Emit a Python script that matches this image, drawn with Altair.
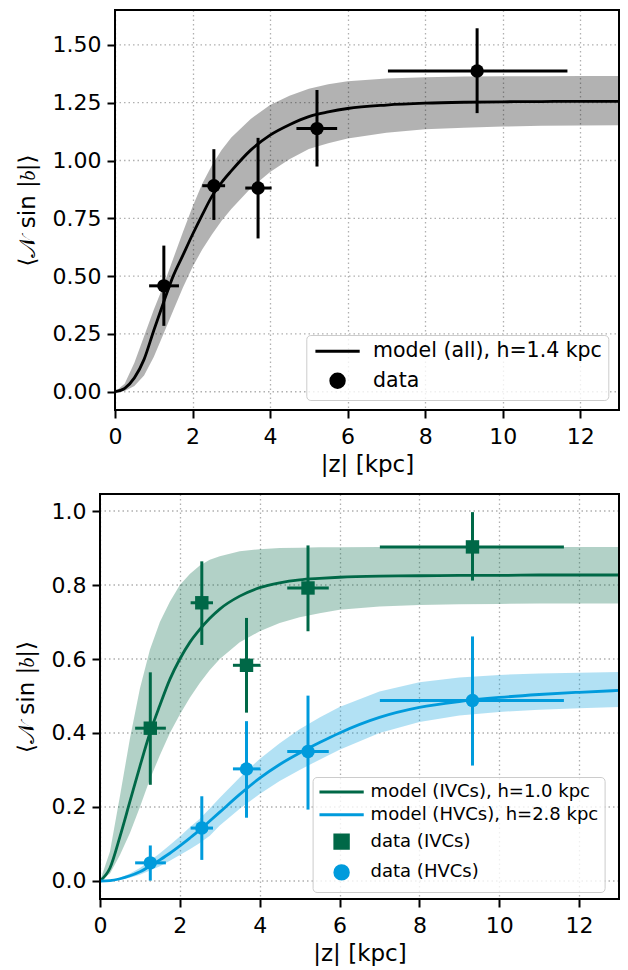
import altair as alt
import pandas as pd

# ---------------- data ----------------
Z_GRID = [0, 0.25, 0.5, 0.75, 1.0, 1.25, 1.5, 1.75, 2.0, 2.25, 2.5, 2.75, 3.0,
          3.5, 4.0, 4.5, 5.0, 5.5, 6.0, 7.0, 8.0, 9.0, 10.0, 11.0, 12.0, 13.0]

# top panel: all clouds
ALL_LABEL = "model (all), h=1.4 kpc"
ALL_MID = [0, 0.015, 0.06, 0.14, 0.265, 0.385, 0.50, 0.59, 0.68, 0.765, 0.845, 0.905, 0.955,
           1.045, 1.11, 1.155, 1.19, 1.21, 1.225, 1.24, 1.248, 1.252, 1.254, 1.255, 1.256, 1.256]
ALL_LO = [0, 0.003, 0.025, 0.07, 0.15, 0.25, 0.35, 0.45, 0.54, 0.615, 0.68, 0.74, 0.79,
          0.88, 0.95, 1.005, 1.05, 1.075, 1.095, 1.12, 1.135, 1.142, 1.147, 1.15, 1.152, 1.153]
ALL_HI = [0, 0.035, 0.125, 0.24, 0.355, 0.46, 0.575, 0.69, 0.80, 0.90, 0.98, 1.045, 1.10,
          1.18, 1.24, 1.28, 1.31, 1.33, 1.343, 1.355, 1.36, 1.363, 1.364, 1.365, 1.366, 1.366]

ALL_Z = [1.26, 2.55, 3.69, 5.21, 9.34]
ALL_ZLO = [0.88, 2.25, 3.36, 4.68, 7.04]
ALL_ZHI = [1.65, 2.84, 4.04, 5.73, 11.67]
ALL_V = [0.458, 0.891, 0.881, 1.138, 1.387]
ALL_VLO = [0.285, 0.743, 0.663, 0.974, 1.205]
ALL_VHI = [0.632, 1.049, 1.098, 1.305, 1.572]

# bottom panel: IVCs and HVCs
IVC_LABEL = "model (IVCs), h=1.0 kpc"
HVC_LABEL = "model (HVCs), h=2.8 kpc"
IVC_MID = [0, 0.035, 0.12, 0.215, 0.31, 0.40, 0.475, 0.545, 0.60, 0.645, 0.68, 0.71, 0.735,
           0.77, 0.793, 0.806, 0.814, 0.818, 0.821, 0.824, 0.825, 0.826, 0.826, 0.827, 0.827, 0.827]
IVC_LO = [0, 0.02, 0.07, 0.13, 0.20, 0.275, 0.34, 0.40, 0.45, 0.495, 0.535, 0.57, 0.60,
          0.645, 0.675, 0.697, 0.713, 0.724, 0.733, 0.742, 0.746, 0.748, 0.749, 0.75, 0.75, 0.75]
IVC_HI = [0, 0.08, 0.23, 0.385, 0.52, 0.625, 0.70, 0.755, 0.80, 0.83, 0.853, 0.868, 0.878,
          0.891, 0.897, 0.90, 0.901, 0.902, 0.902, 0.903, 0.903, 0.903, 0.903, 0.903, 0.903, 0.903]
HVC_MID = [0, 0.001, 0.006, 0.014, 0.025, 0.04, 0.057, 0.075, 0.095, 0.116, 0.138, 0.162, 0.186,
           0.234, 0.278, 0.315, 0.346, 0.374, 0.40, 0.442, 0.469, 0.485, 0.496, 0.504, 0.51, 0.515]
HVC_LO = [0, 0.0005, 0.003, 0.009, 0.017, 0.028, 0.04, 0.055, 0.07, 0.086, 0.103, 0.122, 0.15,
          0.195, 0.235, 0.27, 0.30, 0.328, 0.355, 0.40, 0.43, 0.447, 0.457, 0.463, 0.467, 0.47]
HVC_HI = [0, 0.002, 0.009, 0.02, 0.035, 0.055, 0.075, 0.097, 0.12, 0.145, 0.168, 0.196, 0.225,
          0.28, 0.33, 0.372, 0.41, 0.442, 0.47, 0.512, 0.537, 0.55, 0.557, 0.561, 0.563, 0.565]

CL_Z = [1.26, 2.55, 3.67, 5.21, 9.33]
CL_ZLO = [0.88, 2.27, 3.33, 4.69, 7.01]
CL_ZHI = [1.65, 2.83, 4.02, 5.73, 11.62]
IVC_V = [0.413, 0.752, 0.583, 0.792, 0.903]
IVC_VLO = [0.26, 0.638, 0.455, 0.675, 0.812]
IVC_VHI = [0.564, 0.864, 0.711, 0.907, 0.997]
HVC_V = [0.049, 0.143, 0.303, 0.35, 0.488]
HVC_VLO = [0.001, 0.057, 0.171, 0.193, 0.312]
HVC_VHI = [0.096, 0.229, 0.432, 0.501, 0.661]

X_DOMAIN = [0, 13]
X_TICKS = [0, 2, 4, 6, 8, 10, 12]
TOP_Y_DOMAIN = [-0.079, 1.651]
TOP_Y_TICKS = [0, 0.25, 0.5, 0.75, 1.0, 1.25, 1.5]
BOT_Y_DOMAIN = [-0.0487, 1.046]
BOT_Y_TICKS = [0, 0.2, 0.4, 0.6, 0.8, 1.0]

# ---------------- styling ----------------
FONT = "DejaVu Sans"
GREEN = "#006847"
BLUE = "#009bdc"
GRID = "#b0b0b0"
LINE_SHAPE = "M-3.3,0L3.3,0"
Y_TITLE = "⟨𝒩 sin |𝑏|⟩"


def model_df(label, mid, lo, hi):
    return pd.DataFrame({"z": Z_GRID, "v": mid, "lo": lo, "hi": hi, "label": label})


def data_df(label, z, zlo, zhi, v, vlo, vhi):
    return pd.DataFrame({"z": z, "zlo": zlo, "zhi": zhi, "v": v, "vlo": vlo,
                         "vhi": vhi, "label": label})


def panel(models, points, shift, width, height, ydom, yticks, yfmt,
          leg_x, leg_y, leg_font, leg_row, leg_off, leg_sym):
    xs = alt.Scale(domain=X_DOMAIN, range=[shift, width], nice=False, zero=False)
    ys = alt.Scale(domain=ydom, nice=False, zero=False)
    labels = [m[0]["label"].iloc[0] for m in models] + [p[0]["label"].iloc[0] for p in points]
    colors = [m[1] for m in models] + [p[1] for p in points]
    shapes = [LINE_SHAPE] * len(models) + [p[2] for p in points]
    cscale = alt.Scale(domain=labels, range=colors)
    sscale = alt.Scale(domain=labels, range=shapes)
    leg = alt.Legend(orient="none", legendX=leg_x, legendY=leg_y, title=None,
                     labelFontSize=leg_font, labelFont=FONT, labelLimit=0, symbolSize=180,
                     symbolStrokeWidth=3, symbolOffset=leg_sym, labelOffset=leg_off,
                     padding=6, rowPadding=leg_row, fillColor="rgba(255,255,255,0.8)",
                     strokeColor="#cccccc", cornerRadius=4, symbolOpacity=1)

    ax_x = alt.Axis(values=X_TICKS, format="d", title="|z| [kpc]", grid=True,
                    labelPadding=8, titlePadding=6)
    ax_y = alt.Axis(values=yticks, format=yfmt, title=Y_TITLE, grid=False, offset=-shift,
                    labelPadding=6, titlePadding=13)

    def X(f):
        return alt.X(f, scale=xs, axis=ax_x)

    def Y(f):
        return alt.Y(f, scale=ys, axis=ax_y)

    layers = []
    # horizontal grid lines at the y tick values
    layers.append(
        alt.Chart(pd.DataFrame({"t": yticks})).mark_rule(
            color=GRID, strokeDash=[1.5, 3], strokeWidth=1.3).encode(
            y=Y("t:Q"),
            x=alt.XDatum(X_DOMAIN[0], scale=xs, axis=ax_x),
            x2=alt.X2Datum(X_DOMAIN[1]),
        )
    )
    for df, col in models:
        layers.append(
            alt.Chart(df).mark_area(color=col, opacity=0.3).encode(
                x=X("z:Q"), y=Y("lo:Q"), y2="hi:Q")
        )
    all_models = pd.concat([m[0] for m in models])
    layers.append(
        alt.Chart(all_models).mark_line(strokeWidth=2.8, interpolate="monotone").encode(
            x=X("z:Q"), y=Y("v:Q"),
            color=alt.Color("label:N", scale=cscale, legend=leg),
            detail="label:N",
        )
    )
    for df, col, _ in points:
        layers.append(
            alt.Chart(df).mark_rule(color=col, strokeWidth=3).encode(
                x=X("zlo:Q"), x2="zhi:Q", y=Y("v:Q"))
        )
        layers.append(
            alt.Chart(df).mark_rule(color=col, strokeWidth=3).encode(
                x=X("z:Q"), y=Y("vlo:Q"), y2="vhi:Q")
        )
    all_points = pd.concat([p[0] for p in points])
    layers.append(
        alt.Chart(all_points).mark_point(filled=True, size=180, opacity=1).encode(
            x=X("z:Q"), y=Y("v:Q"),
            color=alt.Color("label:N", scale=cscale, legend=leg),
            shape=alt.Shape("label:N", scale=sscale, legend=leg),
        )
    )
    # plot frame along the axis limits
    layers.append(
        alt.Chart(pd.DataFrame({"t": [0]})).mark_rect(
            filled=False, stroke="black", strokeWidth=2, fillOpacity=0).encode(
            x=alt.XDatum(X_DOMAIN[0], scale=xs, axis=ax_x),
            x2=alt.X2Datum(X_DOMAIN[1]),
            y=alt.YDatum(ydom[0], scale=ys, axis=ax_y),
            y2=alt.Y2Datum(ydom[1]),
        )
    )
    return alt.layer(*layers).properties(width=width, height=height)


top = panel(
    models=[(model_df(ALL_LABEL, ALL_MID, ALL_LO, ALL_HI), "black")],
    points=[(data_df("data", ALL_Z, ALL_ZLO, ALL_ZHI, ALL_V, ALL_VLO, ALL_VHI), "black", "circle")],
    shift=15, width=519, height=400, ydom=TOP_Y_DOMAIN, yticks=TOP_Y_TICKS, yfmt=".2f",
    leg_x=206.3, leg_y=325, leg_font=20.5, leg_row=5.5, leg_off=25.3, leg_sym=15,
)
bottom = panel(
    models=[(model_df(IVC_LABEL, IVC_MID, IVC_LO, IVC_HI), GREEN),
            (model_df(HVC_LABEL, HVC_MID, HVC_LO, HVC_HI), BLUE)],
    points=[(data_df("data (IVCs)", CL_Z, CL_ZLO, CL_ZHI, IVC_V, IVC_VLO, IVC_VHI), GREEN, "square"),
            (data_df("data (HVCs)", CL_Z, CL_ZLO, CL_ZHI, HVC_V, HVC_VLO, HVC_VHI), BLUE, "circle")],
    shift=0, width=519, height=405, ydom=BOT_Y_DOMAIN, yticks=BOT_Y_TICKS, yfmt=".1f",
    leg_x=212.6, leg_y=283, leg_font=18.0, leg_row=4.8, leg_off=20, leg_sym=14,
)

chart = alt.vconcat(top, bottom, spacing=15).resolve_scale(
    color="independent", shape="independent"
).properties(
    padding={"left": 6, "top": 0, "right": -6, "bottom": 0}
).configure(font=FONT).configure_view(stroke="transparent").configure_axis(
    labelFont=FONT, titleFont=FONT, labelFontSize=22, titleFontSize=23,
    titleFontWeight="normal", labelColor="black", titleColor="black",
    domain=False, tickColor="black", tickWidth=2, tickSize=8,
    gridColor=GRID, gridDash=[1.5, 3], gridWidth=1.3, labelFlush=False,
)

chart.save("out.html", embed_options={"renderer": "svg", "actions": False})
